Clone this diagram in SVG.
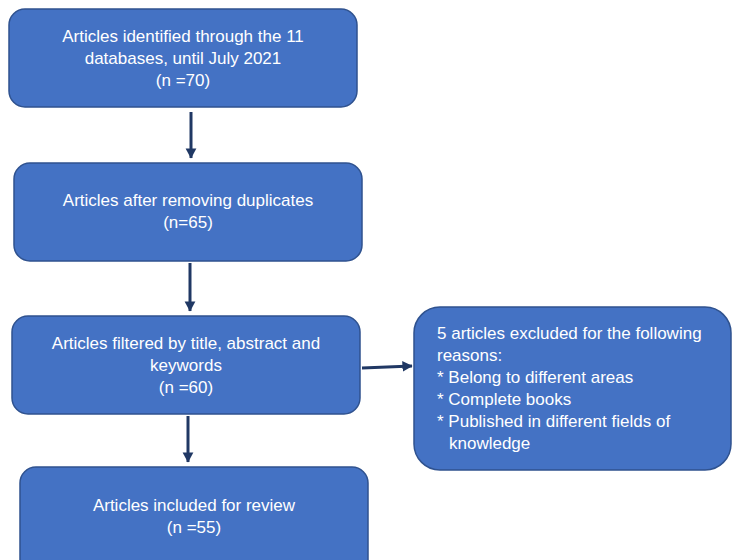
<svg xmlns="http://www.w3.org/2000/svg" width="732" height="560" viewBox="0 0 732 560">
<style>
.box{fill:#4472C4;stroke:#2F528F;stroke-width:1.5}
.t{font-family:"Liberation Sans",Arial,sans-serif;font-size:17px;fill:#ffffff}
.c{text-anchor:middle}
.con{stroke:#203864;stroke-width:3;fill:none;marker-end:url(#ah)}
</style>
<defs>
<marker id="ah" markerWidth="4" markerHeight="4" refX="3.2" refY="2" orient="auto" markerUnits="strokeWidth">
<path d="M0,0.2 L3.4,2 L0,3.8 Z" fill="#203864"/>
</marker>
</defs>
<g id="connectors">
<line class="con" x1="191" y1="112" x2="191" y2="158"/>
<line class="con" x1="190" y1="263" x2="190" y2="311"/>
<line class="con" x1="362" y1="368" x2="412" y2="366"/>
<line class="con" x1="188" y1="416" x2="188" y2="462"/>
</g>
<g id="n1">
<rect class="box" x="9" y="9" width="348" height="98" rx="16"/>
<text class="t c" x="183" y="42">Articles identified through the 11</text>
<text class="t c" x="183" y="64">databases, until July 2021</text>
<text class="t c" x="183" y="86">(n =70)</text>
</g>
<g id="n2">
<rect class="box" x="14" y="163" width="348" height="98" rx="16"/>
<text class="t c" x="188" y="206">Articles after removing duplicates</text>
<text class="t c" x="188" y="228">(n=65)</text>
</g>
<g id="n3">
<rect class="box" x="12" y="316" width="348" height="98" rx="16"/>
<text class="t c" x="186" y="349">Articles filtered by title, abstract and</text>
<text class="t c" x="186" y="371">keywords</text>
<text class="t c" x="186" y="393">(n =60)</text>
</g>
<g id="n4">
<rect class="box" x="414" y="307" width="317" height="163" rx="26"/>
<text class="t" x="437" y="339">5 articles excluded for the following</text>
<text class="t" x="437" y="361">reasons:</text>
<text class="t" x="437" y="383">* Belong to different areas</text>
<text class="t" x="437" y="405">* Complete books</text>
<text class="t" x="437" y="427">* Published in different fields of</text>
<text class="t" x="449" y="449">knowledge</text>
</g>
<g id="n5">
<rect class="box" x="20" y="467" width="348" height="110" rx="16"/>
<text class="t c" x="194" y="511">Articles included for review</text>
<text class="t c" x="194" y="533">(n =55)</text>
</g>
</svg>
